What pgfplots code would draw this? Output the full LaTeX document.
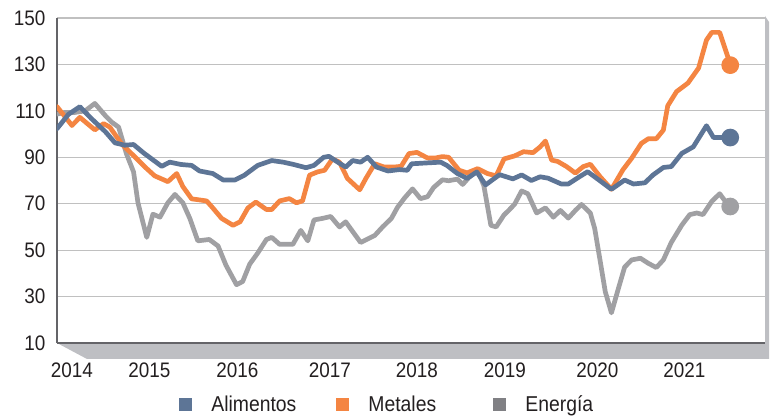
\documentclass[border=0pt]{standalone}
\usepackage{pgfplots}
\pgfplotsset{compat=1.18}
\usepackage{fontspec}
\setmainfont{Liberation Sans}[FakeStretch=0.9]
\definecolor{alim}{RGB}{93,117,150}
\definecolor{metal}{RGB}{244,133,66}
\definecolor{energ}{RGB}{160,160,163}
\definecolor{energleg}{RGB}{128,128,132}
\definecolor{floorc}{RGB}{190,191,195}
\definecolor{gridc}{RGB}{192,192,192}
\definecolor{axisc}{RGB}{100,100,104}
\definecolor{txt}{RGB}{35,31,32}
\begin{document}
\begin{tikzpicture}
\useasboundingbox (0pt,0pt) rectangle (772pt,418pt);
\fill[floorc] (57pt,75pt) -- (87pt,59pt) -- (769pt,59pt) -- (769pt,396pt) -- (765pt,402pt) -- (765pt,75pt) -- cycle;
\begin{axis}[at={(57pt,75pt)}, anchor=south west, scale only axis,
  width=708pt, height=325pt,
  xmin=2014, xmax=2022.045, ymin=10, ymax=150,
  axis background/.style={fill=white},
  axis lines*=left, axis line style={axisc, line width=1.6pt},
  ytick={10,30,...,150}, ymajorgrids, grid style={gridc, line width=1.2pt},
  major tick length=0pt,
  xtick={2014.17,2015.05,2016.05,2017.10,2018.09,2019.09,2020.14,2021.13},
  xticklabels={2014,2015,2016,2017,2018,2019,2020,2021},
  tick label style={font=\fontsize{21}{24}\selectfont, text=txt},
  /pgf/number format/assume math mode=true,
  yticklabel style={xshift=-8pt},
  xticklabel style={yshift=-16pt},
  legend image code/.code={\fill[#1] (0pt,-6.5pt) rectangle (13.5pt,6.5pt);},
  legend style={at={(axis description cs:0.172,-0.19)}, anchor=west, draw=none, fill=none,
    inner sep=0pt, font=\fontsize{21.5}{24}\selectfont, text=txt,
    /tikz/every odd column/.append style={column sep=17pt}},
  legend columns=3, legend cell align=left,
  every axis plot/.append style={line width=4.7pt, line join=round, line cap=round},
]
\addlegendimage{fill=alim, draw=none}
\addlegendentry{\makebox[122.5pt][l]{Alimentos}}
\addlegendimage{fill=metal, draw=none}
\addlegendentry{\makebox[122.5pt][l]{Metales}}
\addlegendimage{fill=energleg, draw=none}
\addlegendentry{Energía}

% Energia
\addplot[energ, forget plot] coordinates {
(2014.00,108.6)(2014.09,109.3)(2014.20,109.3)(2014.32,110)(2014.43,113.2)(2014.55,107.9)
(2014.62,105.2)(2014.70,103)(2014.79,91.4)(2014.87,83.7)(2014.92,70.4)(2015.02,55.5)
(2015.09,65.5)(2015.17,64.2)(2015.26,70.4)(2015.34,74)(2015.43,70.4)(2015.51,63.6)
(2015.60,54)(2015.73,54.6)(2015.83,51.8)(2015.92,43.5)(2016.04,35.1)(2016.11,36.5)
(2016.19,44)(2016.28,48.7)(2016.38,54.6)(2016.44,55.5)(2016.53,52.5)(2016.68,52.5)
(2016.77,58.5)(2016.85,54)(2016.92,63)(2017.02,63.7)(2017.11,64.5)(2017.21,60)
(2017.28,62.2)(2017.45,53.3)(2017.61,56.3)(2017.70,60)(2017.80,63.7)(2017.87,68.5)
(2017.95,72.5)(2018.04,76.4)(2018.13,72.2)(2018.21,73)(2018.28,77)(2018.38,80.3)
(2018.45,79.9)(2018.55,80.6)(2018.61,78.3)(2018.68,81.3)(2018.78,84.4)(2018.85,77.8)
(2018.93,60.7)(2018.99,60)(2019.08,65.2)(2019.13,67)(2019.20,69.8)(2019.28,75.5)
(2019.35,74.3)(2019.45,66)(2019.55,68.2)(2019.64,64.2)(2019.72,67.1)(2019.81,63.8)
(2019.89,67.1)(2019.96,69.7)(2020.06,66)(2020.11,59.3)(2020.17,45.8)(2020.23,32.1)
(2020.30,23)(2020.38,33.6)(2020.45,42.7)(2020.53,45.8)(2020.63,46.5)(2020.72,44.3)
(2020.81,42.5)(2020.89,45.8)(2020.98,53.3)(2021.10,60.8)(2021.19,65.3)(2021.27,66)
(2021.34,65.3)(2021.44,71)(2021.53,74.3)(2021.63,69.2)(2021.65,68.8)
};
% Metales
\addplot[metal, forget plot] coordinates {
(2014.00,111.8)(2014.17,103.7)(2014.26,107.2)(2014.43,101.8)(2014.53,104.5)(2014.60,103)
(2014.74,95.5)(2014.89,90)(2015.00,85.8)(2015.11,82)(2015.26,79.5)(2015.36,83)
(2015.43,77.4)(2015.53,72.1)(2015.70,71.2)(2015.77,68.2)(2015.87,63.7)(2016.00,60.7)
(2016.08,62.2)(2016.17,68.2)(2016.26,70.7)(2016.38,67.5)(2016.44,67.5)(2016.53,71.2)
(2016.64,72.2)(2016.72,70.4)(2016.79,71.2)(2016.87,82.3)(2016.96,83.7)(2017.04,84.4)
(2017.13,89.3)(2017.21,87.9)(2017.30,80.9)(2017.44,76)(2017.51,80.9)(2017.61,87.2)
(2017.72,85.8)(2017.83,85.8)(2017.91,86.1)(2018.00,91.6)(2018.09,92.1)(2018.21,89.7)
(2018.30,89.7)(2018.38,90.3)(2018.45,90)(2018.57,84.4)(2018.66,83.3)(2018.78,85.1)
(2018.89,83)(2018.99,82)(2019.08,89.3)(2019.20,90.6)(2019.30,92.4)(2019.41,92)
(2019.49,94.5)(2019.55,97)(2019.62,88.8)(2019.69,88.2)(2019.79,86)(2019.89,83.2)
(2019.98,86)(2020.06,87)(2020.17,81.7)(2020.30,76.2)(2020.43,84.6)(2020.53,89.6)
(2020.64,96)(2020.72,98)(2020.81,98)(2020.89,101.7)(2020.94,112.2)(2021.04,118.3)
(2021.17,122)(2021.29,128.4)(2021.38,140.5)(2021.44,143.8)(2021.53,143.8)(2021.63,132.4)
(2021.65,129.7)
};
% Alimentos
\addplot[alim, forget plot] coordinates {
(2014.00,102.3)(2014.13,108.5)(2014.26,111.8)(2014.39,106.7)(2014.55,101)(2014.66,96.2)
(2014.77,95.2)(2014.87,95.5)(2014.98,92)(2015.09,88.9)(2015.19,86.1)(2015.28,87.9)
(2015.41,86.9)(2015.53,86.5)(2015.62,84.1)(2015.77,83)(2015.89,80.2)(2016.02,80.2)
(2016.13,82.3)(2016.28,86.5)(2016.44,88.6)(2016.57,87.9)(2016.69,86.9)(2016.83,85.5)
(2016.92,86.5)(2017.03,90)(2017.09,90.4)(2017.19,87.9)(2017.28,85.8)(2017.36,88.6)
(2017.45,87.9)(2017.53,90)(2017.63,85.8)(2017.76,84.1)(2017.89,84.7)(2017.98,84.4)
(2018.03,87.2)(2018.17,87.5)(2018.36,87.9)(2018.43,86.5)(2018.55,83)(2018.66,80.9)
(2018.77,83.7)(2018.87,78.1)(2018.97,80.9)(2019.03,82.5)(2019.18,80.7)(2019.28,82.4)
(2019.39,80)(2019.49,81.6)(2019.58,81)(2019.73,78.5)(2019.81,78.5)(2019.94,81.7)
(2020.03,83.8)(2020.13,81)(2020.30,76.2)(2020.45,80.2)(2020.55,78.5)(2020.68,79)
(2020.77,82.3)(2020.89,85.6)(2020.98,86)(2021.10,91.7)(2021.23,94.5)(2021.38,103.6)
(2021.46,98.5)(2021.55,98.5)(2021.65,98.5)
};
% end markers
\addplot[only marks, mark=*, mark size=6.5pt, color=energ, forget plot] coordinates {(2021.65,68.8)};
\addplot[only marks, mark=*, mark size=6.5pt, color=metal, forget plot] coordinates {(2021.65,129.7)};
\addplot[only marks, mark=*, mark size=6.5pt, color=alim, forget plot] coordinates {(2021.65,98.5)};
\end{axis}
\end{tikzpicture}
\end{document}
